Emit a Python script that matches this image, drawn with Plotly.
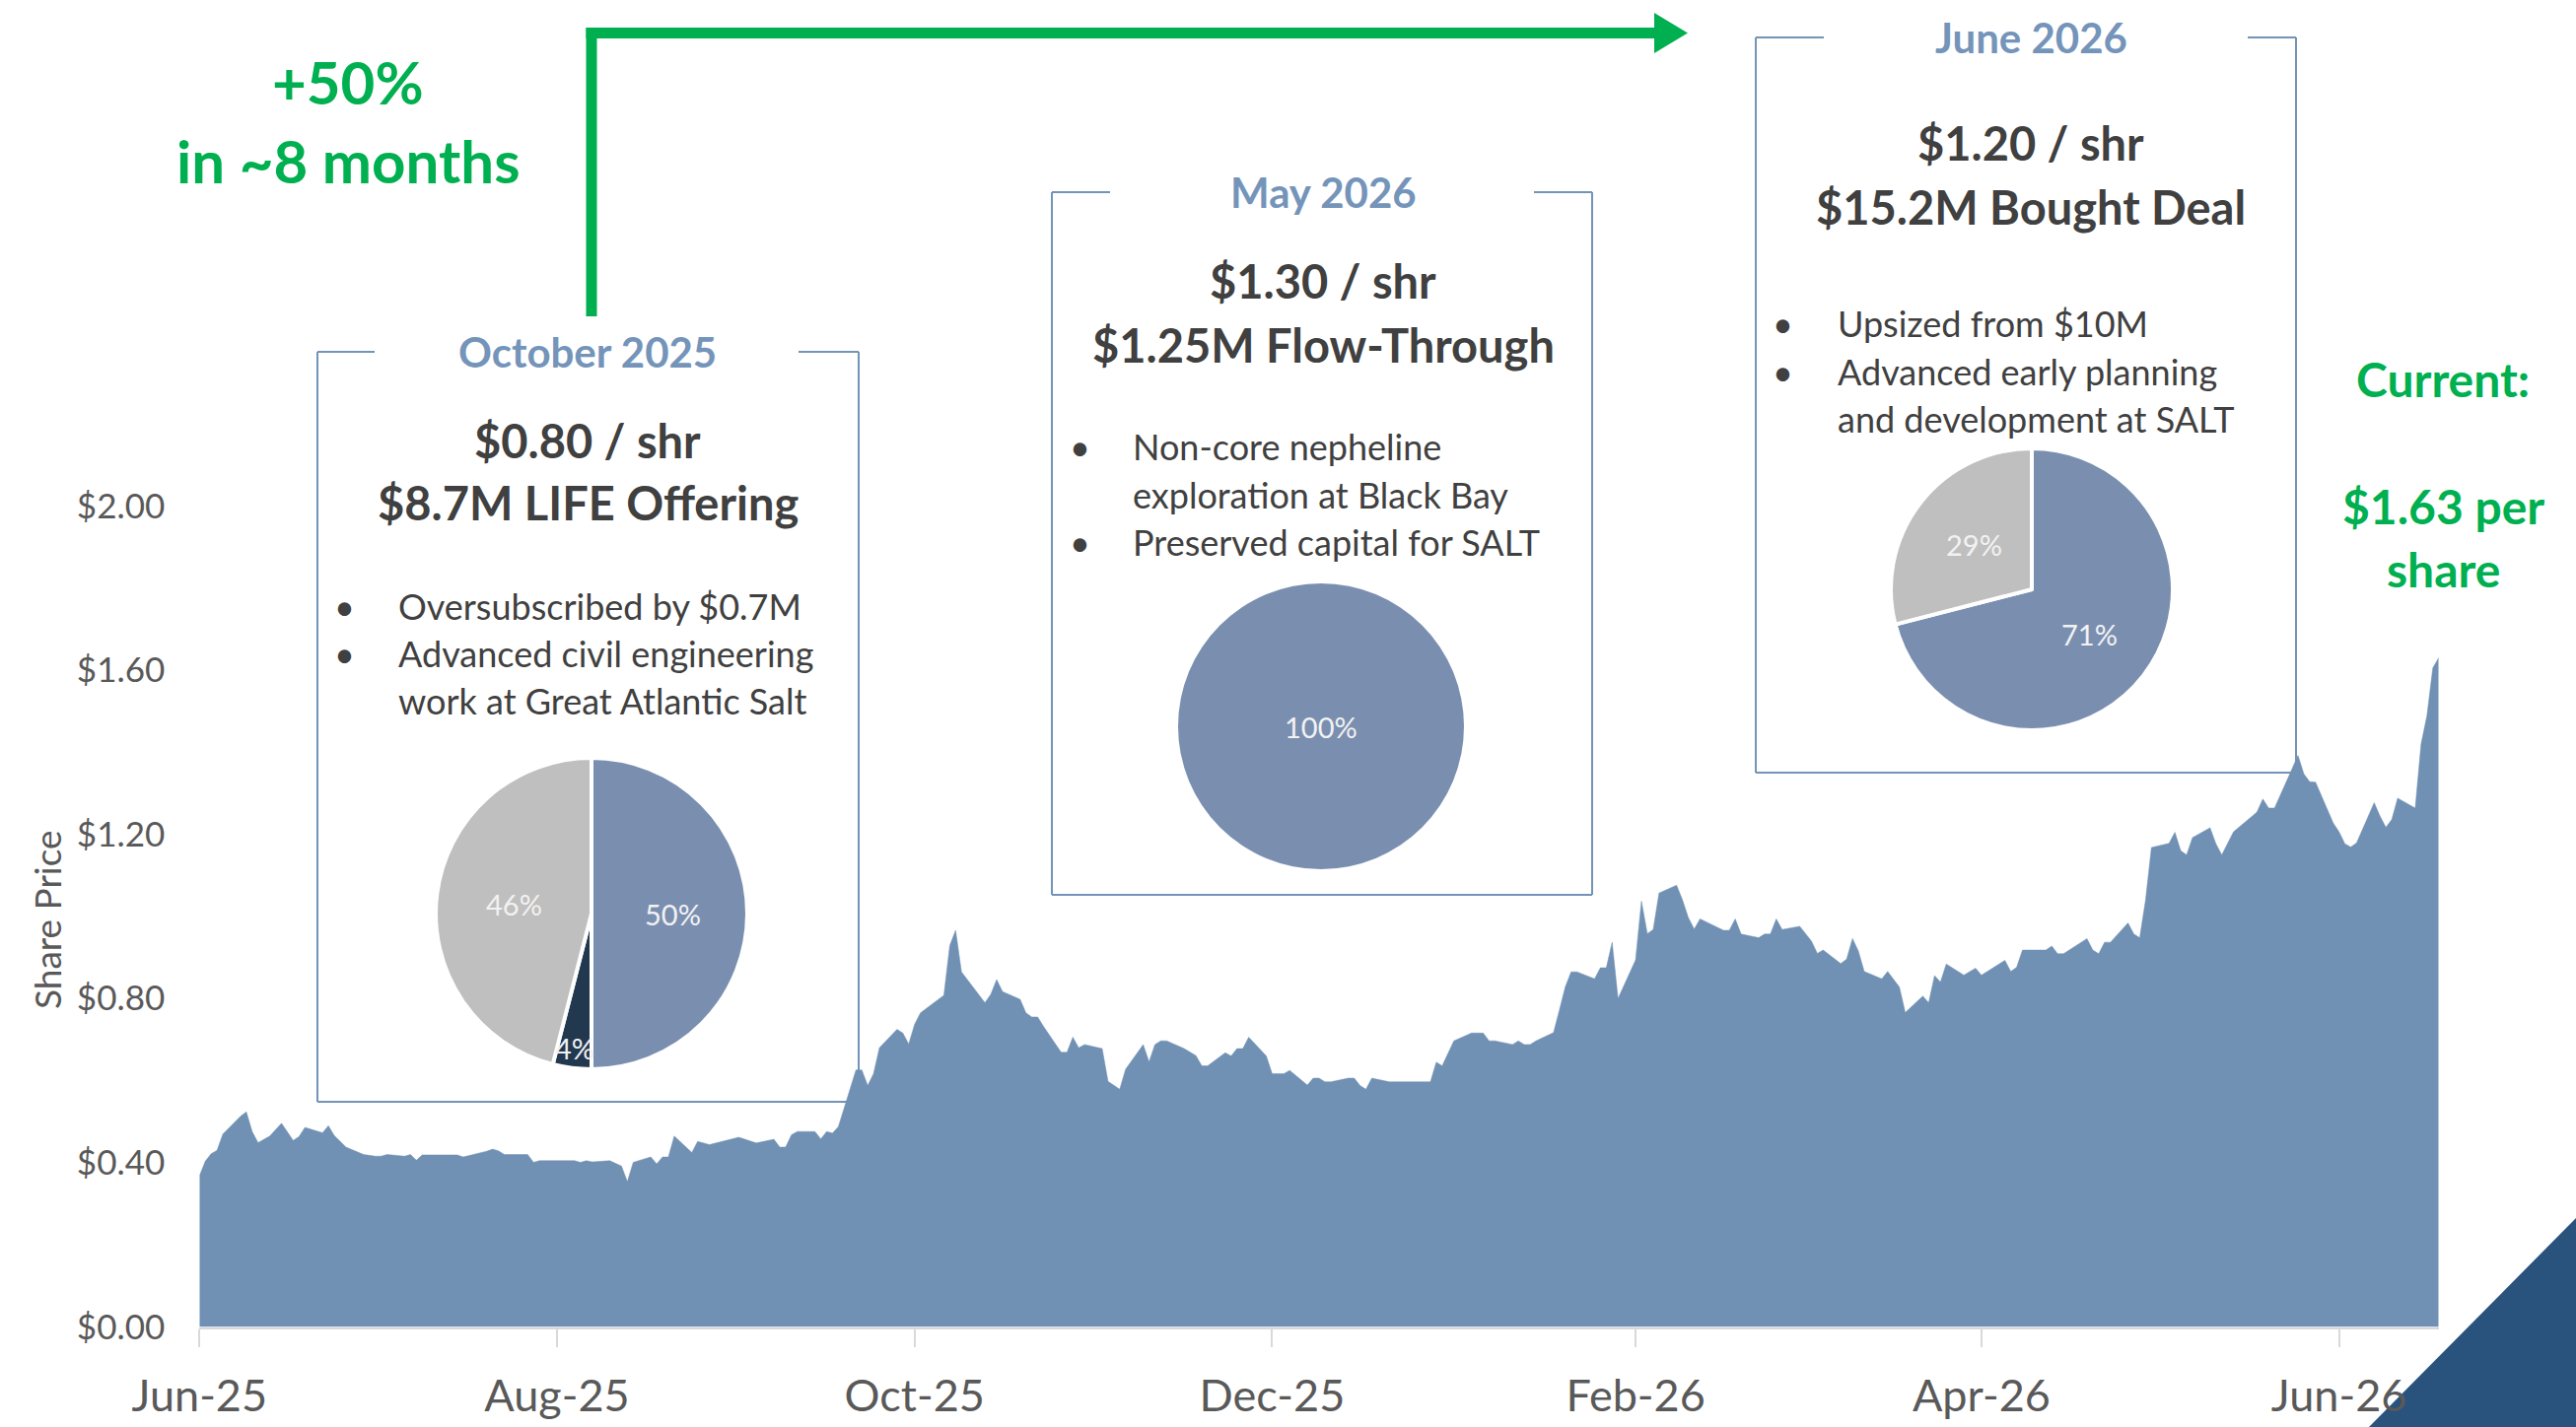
import math
import plotly.graph_objects as go

# ---------------- data ----------------
dates = [
    "2025-06-01", "2025-06-02", "2025-06-03", "2025-06-04", "2025-06-05", "2025-06-08", "2025-06-09",
    "2025-06-10", "2025-06-11", "2025-06-13", "2025-06-15", "2025-06-16", "2025-06-17", "2025-06-18",
    "2025-06-19", "2025-06-22", "2025-06-23", "2025-06-24", "2025-06-26", "2025-06-29", "2025-07-01",
    "2025-07-02", "2025-07-03", "2025-07-06", "2025-07-07", "2025-07-08", "2025-07-09", "2025-07-15",
    "2025-07-16", "2025-07-20", "2025-07-21", "2025-07-22", "2025-07-23", "2025-07-27", "2025-07-28",
    "2025-07-29", "2025-08-04", "2025-08-05", "2025-08-06", "2025-08-07", "2025-08-10", "2025-08-12",
    "2025-08-13", "2025-08-14", "2025-08-17", "2025-08-18", "2025-08-19", "2025-08-20", "2025-08-21",
    "2025-08-24", "2025-08-25", "2025-08-27", "2025-09-01", "2025-09-04", "2025-09-07", "2025-09-08",
    "2025-09-09", "2025-09-10", "2025-09-11", "2025-09-14", "2025-09-15", "2025-09-16", "2025-09-17",
    "2025-09-18", "2025-09-21", "2025-09-22", "2025-09-23", "2025-09-24", "2025-09-25", "2025-09-28",
    "2025-09-29", "2025-09-30", "2025-10-01", "2025-10-02", "2025-10-05", "2025-10-06", "2025-10-07",
    "2025-10-08", "2025-10-09", "2025-10-13", "2025-10-14", "2025-10-15", "2025-10-16", "2025-10-19",
    "2025-10-20", "2025-10-21", "2025-10-22", "2025-10-23", "2025-10-26", "2025-10-27", "2025-10-28",
    "2025-10-29", "2025-10-30", "2025-11-02", "2025-11-03", "2025-11-05", "2025-11-06", "2025-11-09",
    "2025-11-10", "2025-11-11", "2025-11-12", "2025-11-13", "2025-11-16", "2025-11-18", "2025-11-19",
    "2025-11-20", "2025-11-23", "2025-11-24", "2025-11-25", "2025-11-26", "2025-11-27", "2025-11-30",
    "2025-12-01", "2025-12-03", "2025-12-04", "2025-12-07", "2025-12-08", "2025-12-09", "2025-12-10",
    "2025-12-11", "2025-12-14", "2025-12-15", "2025-12-16", "2025-12-17", "2025-12-18", "2025-12-21",
    "2025-12-28", "2025-12-29", "2025-12-30", "2026-01-01", "2026-01-04", "2026-01-06", "2026-01-07",
    "2026-01-08", "2026-01-11", "2026-01-12", "2026-01-13", "2026-01-14", "2026-01-15", "2026-01-18",
    "2026-01-19", "2026-01-20", "2026-01-21", "2026-01-22", "2026-01-25", "2026-01-26", "2026-01-27",
    "2026-01-28", "2026-01-29", "2026-02-01", "2026-02-02", "2026-02-03", "2026-02-04", "2026-02-05",
    "2026-02-08", "2026-02-09", "2026-02-10", "2026-02-11", "2026-02-12", "2026-02-16", "2026-02-17",
    "2026-02-18", "2026-02-19", "2026-02-22", "2026-02-23", "2026-02-24", "2026-02-25", "2026-02-26",
    "2026-03-01", "2026-03-03", "2026-03-04", "2026-03-05", "2026-03-08", "2026-03-09", "2026-03-10",
    "2026-03-11", "2026-03-12", "2026-03-15", "2026-03-16", "2026-03-18", "2026-03-19", "2026-03-22",
    "2026-03-23", "2026-03-24", "2026-03-25", "2026-03-26", "2026-03-29", "2026-03-31", "2026-04-01",
    "2026-04-05", "2026-04-06", "2026-04-07", "2026-04-08", "2026-04-12", "2026-04-13", "2026-04-14",
    "2026-04-15", "2026-04-19", "2026-04-20", "2026-04-21", "2026-04-22", "2026-04-23", "2026-04-26",
    "2026-04-27", "2026-04-28", "2026-04-29", "2026-04-30", "2026-05-03", "2026-05-04", "2026-05-05",
    "2026-05-06", "2026-05-07", "2026-05-10", "2026-05-11", "2026-05-12", "2026-05-14", "2026-05-18",
    "2026-05-19", "2026-05-20", "2026-05-21", "2026-05-24", "2026-05-25", "2026-05-26", "2026-05-27",
    "2026-05-28", "2026-05-31", "2026-06-01", "2026-06-02", "2026-06-03", "2026-06-04", "2026-06-07",
    "2026-06-08", "2026-06-09", "2026-06-10", "2026-06-11", "2026-06-14", "2026-06-15", "2026-06-16",
    "2026-06-17", "2026-06-18",
]
share_price = [
    0.368, 0.404, 0.422, 0.430, 0.470, 0.513, 0.524,
    0.476, 0.449, 0.465, 0.496, 0.476, 0.454, 0.464,
    0.486, 0.473, 0.490, 0.466, 0.438, 0.420, 0.416,
    0.416, 0.420, 0.416, 0.420, 0.406, 0.419, 0.419,
    0.414, 0.428, 0.433, 0.429, 0.420, 0.420, 0.401,
    0.405, 0.405, 0.401, 0.405, 0.402, 0.405, 0.392,
    0.354, 0.401, 0.414, 0.397, 0.414, 0.414, 0.465,
    0.425, 0.452, 0.444, 0.462, 0.448, 0.457, 0.438,
    0.438, 0.468, 0.476, 0.476, 0.458, 0.476, 0.472,
    0.488, 0.626, 0.626, 0.588, 0.617, 0.680, 0.725,
    0.716, 0.689, 0.737, 0.765, 0.797, 0.808, 0.929,
    0.966, 0.865, 0.790, 0.810, 0.846, 0.817, 0.798,
    0.765, 0.755, 0.755, 0.732, 0.669, 0.669, 0.706,
    0.680, 0.688, 0.678, 0.598, 0.579, 0.628, 0.688,
    0.646, 0.688, 0.697, 0.697, 0.678, 0.661, 0.636,
    0.636, 0.668, 0.660, 0.678, 0.678, 0.706, 0.660,
    0.617, 0.617, 0.625, 0.589, 0.606, 0.606, 0.597,
    0.597, 0.606, 0.606, 0.588, 0.579, 0.606, 0.597,
    0.597, 0.645, 0.636, 0.697, 0.716, 0.716, 0.697,
    0.697, 0.688, 0.697, 0.688, 0.688, 0.697, 0.717,
    0.772, 0.828, 0.865, 0.865, 0.848, 0.875, 0.875,
    0.937, 0.800, 0.894, 1.037, 0.958, 0.968, 1.057,
    1.076, 1.040, 0.997, 0.969, 0.994, 0.966, 0.966,
    0.994, 0.957, 0.948, 0.957, 0.957, 0.994, 0.968,
    0.976, 0.940, 0.910, 0.918, 0.885, 0.896, 0.946,
    0.916, 0.866, 0.848, 0.866, 0.828, 0.766, 0.806,
    0.790, 0.856, 0.840, 0.884, 0.857, 0.874, 0.857,
    0.893, 0.866, 0.876, 0.918, 0.918, 0.928, 0.909,
    0.909, 0.946, 0.918, 0.909, 0.937, 0.937, 0.984,
    0.957, 0.948, 1.040, 1.168, 1.178, 1.205, 1.160,
    1.150, 1.192, 1.216, 1.177, 1.150, 1.206, 1.254,
    1.286, 1.264, 1.264, 1.360, 1.392, 1.347, 1.328,
    1.327, 1.228, 1.206, 1.177, 1.169, 1.179, 1.277,
    1.244, 1.217, 1.236, 1.288, 1.264, 1.420, 1.489,
    1.605, 1.630,
]

x_tick_vals = ["2025-06-01", "2025-08-01", "2025-10-01", "2025-12-01",
               "2026-02-01", "2026-04-01", "2026-06-01"]
x_tick_text = ["Jun-25", "Aug-25", "Oct-25", "Dec-25", "Feb-26", "Apr-26", "Jun-26"]
y_tick_vals = [0.0, 0.4, 0.8, 1.2, 1.6, 2.0]
y_tick_text = ["$0.00", "$0.40", "$0.80", "$1.20", "$1.60", "$2.00"]

# financing boxes
box_titles = ["October 2025", "May 2026", "June 2026"]
box_price = ["$0.80 / shr", "$1.30 / shr", "$1.20 / shr"]
box_deal = ["$8.7M LIFE Offering", "$1.25M Flow-Through", "$15.2M Bought Deal"]
box_bullets = [
    ["Oversubscribed by $0.7M", "Advanced civil engineering", "work at Great Atlantic Salt"],
    ["Non-core nepheline", "exploration at Black Bay", "Preserved capital for SALT"],
    ["Upsized from $10M", "Advanced early planning", "and development at SALT"],
]
bullet_starts = [[True, True, False], [True, False, True], [True, True, False]]

pie1_labels = ["Part A", "Part B", "Part C"]
pie1_values = [50, 4, 46]
pie2_labels = ["Part A"]
pie2_values = [100]
pie3_labels = ["Part A", "Part C"]
pie3_values = [71, 29]

growth_text = ["+50%", "in ~8 months"]
current_text = ["Current:", "$1.63 per", "share"]

# ---------------- styling ----------------
W, H = 2613, 1448
FONT = "Lato"
AREA = "#7091B4"
BOX = "#7393B7"
TITLE_BLUE = "#7494BA"
DARK = "#404040"
TICK = "#595959"
GREEN = "#00B050"
PIE_COLORS = {"Part A": "#7A8FB0", "Part B": "#22384F", "Part C": "#BFBFBF"}


def px(x):
    return x / W


def py(y):
    return 1 - y / H


fig = go.Figure()

fig.add_trace(go.Scatter(
    x=dates, y=share_price, mode="lines", fill="tozeroy",
    fillcolor=AREA, line=dict(color=AREA, width=0.5),
    hoverinfo="skip", showlegend=False,
))

boxes = [
    dict(l=322, r=871, t=357, b=1118, gl=380, gr=810, tx=596, price_y=447, deal_y=510,
         bx=350, txl=402, by=[615, 663, 711], cx=600, cy=927, rad=158,
         labels=pie1_labels, values=pie1_values, lab_f=[0.52, 0.87, 0.5]),
    dict(l=1067, r=1615, t=195, b=908, gl=1126, gr=1556, tx=1342, price_y=285, deal_y=350,
         bx=1095, txl=1147, by=[453, 502, 550], cx=1340, cy=737, rad=145,
         labels=pie2_labels, values=pie2_values, lab_f=[0.0]),
    dict(l=1781, r=2329, t=38, b=784, gl=1850, gr=2280, tx=2060, price_y=145, deal_y=210,
         bx=1808, txl=1862, by=[328, 377, 425], cx=2061, cy=598, rad=143,
         labels=pie3_labels, values=pie3_values, lab_f=[0.52, 0.52]),
]

shapes = []
annotations = []


def seg(x0, y0, x1, y1, color=BOX, width=2, layer="below"):
    shapes.append(dict(type="line", xref="paper", yref="paper",
                       x0=px(x0), y0=py(y0), x1=px(x1), y1=py(y1),
                       line=dict(color=color, width=width), layer=layer))


def text(t, x, y, size, color=DARK, bold=False, xanchor="center", angle=0):
    annotations.append(dict(
        text=f"<b>{t}</b>" if bold else t, xref="paper", yref="paper",
        x=px(x), y=py(y), xanchor=xanchor, yanchor="middle", showarrow=False,
        textangle=angle, font=dict(family=FONT, size=size, color=color)))


for i, b in enumerate(boxes):
    seg(b["l"], b["t"], b["l"], b["b"])
    seg(b["r"], b["t"], b["r"], b["b"])
    seg(b["l"], b["b"], b["r"], b["b"])
    seg(b["l"], b["t"], b["gl"], b["t"])
    seg(b["gr"], b["t"], b["r"], b["t"])
    text(box_titles[i], b["tx"], b["t"], 42, TITLE_BLUE, bold=True)
    text(box_price[i], b["tx"], b["price_y"], 47, DARK, bold=True)
    text(box_deal[i], b["tx"], b["deal_y"], 47, DARK, bold=True)
    for j, line in enumerate(box_bullets[i]):
        if bullet_starts[i][j]:
            text("•", b["bx"], b["by"][j], 36, DARK)
        text(line, b["txl"], b["by"][j], 36, DARK, xanchor="left")

    cx, cy, r = b["cx"], b["cy"], b["rad"]
    fig.add_trace(go.Pie(
        labels=b["labels"], values=b["values"], sort=False, direction="clockwise",
        rotation=0, textinfo="none", hoverinfo="skip", showlegend=False,
        marker=dict(colors=[PIE_COLORS[k] for k in b["labels"]],
                    line=dict(color="white", width=0 if len(b["values"]) == 1 else 4)),
        domain=dict(x=[px(cx - r), px(cx + r)], y=[py(cy + r), py(cy - r)]),
    ))
    total = sum(b["values"])
    acc = 0
    for v, f in zip(b["values"], b["lab_f"]):
        mid = (acc + v / 2) / total * 2 * math.pi
        acc += v
        lx = cx + f * r * math.sin(mid)
        ly = cy - f * r * math.cos(mid)
        text(f"{round(v / total * 100)}%", lx, ly, 29, "#F2F2F2")

# green growth arrow
seg(600, 321, 600, 28, GREEN, 11, "above")
seg(594.5, 33.5, 1682, 33.5, GREEN, 11, "above")
shapes.append(dict(type="path", xref="paper", yref="paper",
                   path=f"M {px(1678)} {py(13)} L {px(1712)} {py(33.5)} L {px(1678)} {py(54)} Z",
                   fillcolor=GREEN, line=dict(width=0), layer="above"))
text(growth_text[0], 353, 83, 60, GREEN, bold=True)
text(growth_text[1], 353, 163, 60, GREEN, bold=True)

text(current_text[0], 2478, 385, 48, GREEN, bold=True)
text(current_text[1], 2478, 513, 48, GREEN, bold=True)
text(current_text[2], 2478, 577, 48, GREEN, bold=True)

text("Share Price", 47, 933, 37, TICK, angle=-90)

shapes.append(dict(type="path", xref="paper", yref="paper",
                   path=f"M {px(2403)} {py(1448)} L {px(2613)} {py(1236)} L {px(2613)} {py(1448)} Z",
                   fillcolor="#29527C", line=dict(width=0), layer="below"))

fig.update_layout(
    width=W, height=H, autosize=False,
    margin=dict(l=0, r=0, t=0, b=0, pad=0, autoexpand=False),
    paper_bgcolor="white", plot_bgcolor="rgba(0,0,0,0)",
    showlegend=False, hovermode=False,
    shapes=shapes, annotations=annotations,
    xaxis=dict(
        type="date", domain=[px(202.3), px(2473.7)],
        range=["2025-06-01", "2026-06-18"], automargin=False,
        tickmode="array", tickvals=x_tick_vals, ticktext=x_tick_text,
        showgrid=False, zeroline=False,
        showline=True, linecolor="#D9D9D9", linewidth=2,
        ticks="outside", ticklen=18, tickwidth=2, tickcolor="#D9D9D9",
        tickfont=dict(family=FONT, size=45, color=TICK),
        ticklabelstandoff=11,
    ),
    yaxis=dict(
        domain=[py(1346.5), py(513.3)], range=[0, 2.0], automargin=False,
        tickmode="array", tickvals=y_tick_vals, ticktext=y_tick_text,
        showgrid=False, zeroline=False, showline=False, ticks="",
        tickfont=dict(family=FONT, size=35, color=TICK),
        ticklabelstandoff=34,
    ),
)

fig.write_html("out.html", config={"displayModeBar": False},
               post_script="document.body.style.margin='0px';document.body.style.overflow='hidden';")
